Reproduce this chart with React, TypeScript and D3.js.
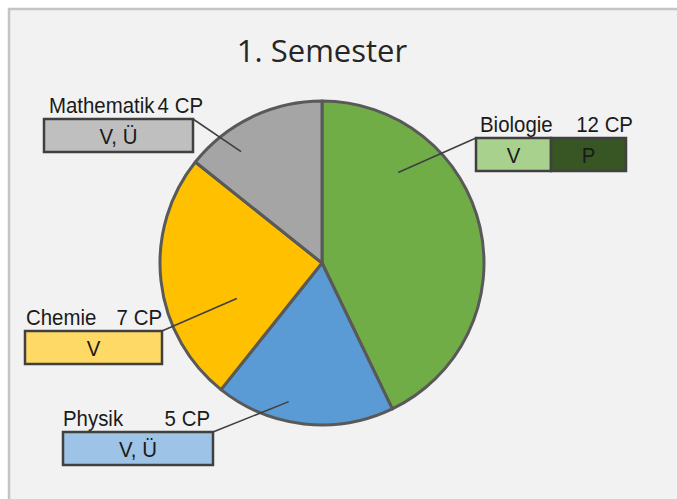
import React from "react";
import * as d3 from "d3";

const subjects = ["Biologie", "Physik", "Chemie", "Mathematik"];
const credits = [12, 5, 7, 4];
const sliceColors = ["#70ad47", "#5b9bd5", "#ffc000", "#a5a5a5"];
const parts = [["V", "P"], ["V, Ü"], ["V"], ["V, Ü"]];
const partColors = [["#a9d18e", "#375623"], ["#9dc3e6"], ["#ffd966"], ["#bfbfbf"]];
const title = "1. Semester";

// layout of callout boxes (x, y, width) and leader anchor (fraction of slice angle, fraction of radius)
const boxes = [
  { x: 476, y: 138, w: 150, nameX: 480, cpEnd: 633, af: 0.26, rf: 0.73 },
  { x: 63, y: 432, w: 150, nameX: 63, cpEnd: 210, af: 0.61, rf: 0.88 },
  { x: 25, y: 331, w: 137, nameX: 26, cpEnd: 162, af: 0.32, rf: 0.57 },
  { x: 44, y: 119, w: 149, nameX: 49, cpEnd: 203, af: 0.30, rf: 0.85 },
];

export default function App() {
  const W = 677, H = 499;
  const cx = 322, cy = 263, R = 162, BH = 33;
  const pie = d3.pie<number>().sort(null).value((d) => d)(credits);
  const arc = d3.arc<d3.PieArcDatum<number>>().innerRadius(0).outerRadius(R);
  const font = "'Liberation Sans', Arial, sans-serif";
  const sx = 0.95;
  const T = (x: number, y: number, s: string, anchor: string, key?: any) => (
    <text key={key} transform={`translate(${x},${y}) scale(${sx},1)`} textAnchor={anchor} fontFamily={font} fontSize={21.5} fill="#1a1a1a">
      {s}
    </text>
  );
  return (
    <svg width={W} height={H} style={{ position: "absolute", left: 0, top: 0 }}>
      <rect x={0} y={0} width={W} height={H} fill="#ffffff" />
      <rect x={9} y={9} width={W + 10} height={H + 10} fill="#f2f2f2" stroke="#c4c4c4" strokeWidth={2.5} />
      <text x={322} y={62} textAnchor="middle" fontFamily="'Open Sans', 'Noto Sans', sans-serif" fontSize={31} fill="#262626">
        {title}
      </text>
      <g transform={`translate(${cx},${cy})`}>
        {pie.map((p, i) => (
          <path key={i} d={arc(p) || ""} fill={sliceColors[i]} stroke="#595959" strokeWidth={3} strokeLinejoin="round" />
        ))}
      </g>
      {pie.map((p, i) => {
        const b = boxes[i];
        const a = p.startAngle + (p.endAngle - p.startAngle) * b.af;
        const ex = cx + Math.sin(a) * R * b.rf;
        const ey = cy - Math.cos(a) * R * b.rf;
        const lx = b.x + (ex > b.x + b.w / 2 ? b.w : 0);
        const n = parts[i].length;
        const pw = b.w / n;
        return (
          <g key={i}>
            <line x1={lx} y1={b.y} x2={ex} y2={ey} stroke="#404040" strokeWidth={1.6} />
            {parts[i].map((t, j) => (
              <g key={j}>
                <rect x={b.x + j * pw} y={b.y} width={pw} height={BH} fill={partColors[i][j]} stroke="#404040" strokeWidth={2.5} />
                {T(b.x + j * pw + pw / 2, b.y + 25, t, "middle")}
              </g>
            ))}
            {T(b.nameX, b.y - 6, subjects[i], "start")}
            {T(b.cpEnd, b.y - 6, `${credits[i]} CP`, "end")}
          </g>
        );
      })}
    </svg>
  );
}
